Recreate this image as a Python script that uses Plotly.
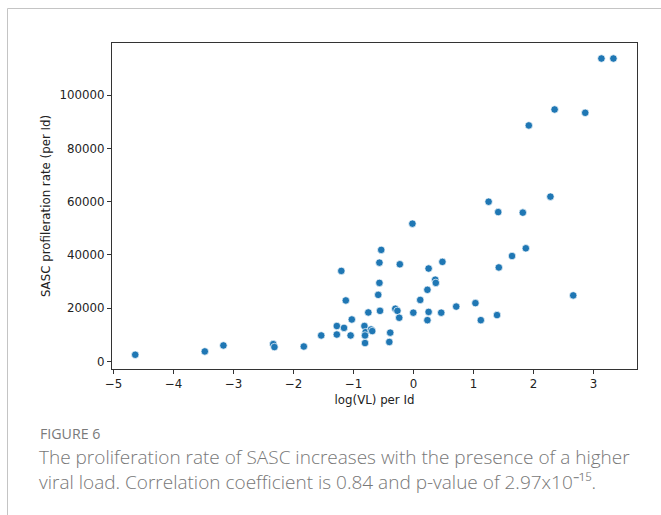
import plotly.graph_objects as go

log_vl = [-4.64, -3.48, -3.17, -2.34, -2.32, -1.83, -1.54, -1.28, -1.28, -1.16,
          -1.05, -1.03, -1.205, -1.13, -0.82, -0.80, -0.81, -0.81, -0.755, -0.71,
          -0.69, -0.59, -0.57, -0.57, -0.54, -0.56, -0.39, -0.405, -0.305, -0.27,
          -0.24, -0.23, -0.02, -0.005, 0.11, 0.25, 0.23, 0.36, 0.37, 0.48,
          0.25, 0.23, 0.46, 0.71, 1.03, 3.13, 3.33, 2.35, 2.86, 1.92,
          2.28, 1.25, 1.41, 1.82, 1.87, 1.64, 1.42, 2.66, 1.12, 1.39]
prolif = [2500, 3750, 6000, 6500, 5400, 5600, 9750, 13300, 10100, 12600,
          9750, 15750, 34000, 22900, 13300, 11000, 9750, 6900, 18400, 12000,
          11400, 25000, 29500, 37100, 41900, 19000, 10800, 7300, 19800, 19000,
          16400, 36500, 51750, 18300, 23100, 34900, 26900, 30700, 29500, 37400,
          18600, 15500, 18300, 20600, 21900, 113800, 113800, 94650, 93400, 88650,
          61900, 60000, 56100, 55900, 42500, 39600, 35300, 24800, 15500, 17400]

x_ticks = [-5, -4, -3, -2, -1, 0, 1, 2, 3]
y_ticks = [0, 20000, 40000, 60000, 80000, 100000]

W, H = 661, 515
L, R, T, B = 112, 24, 43, 146
pw, ph = W - L - R, H - T - B

def px(x):
    return (x - L) / pw

def py(y):
    return (H - B - y) / ph

fig = go.Figure()
fig.add_trace(go.Scatter(
    x=log_vl, y=prolif, mode="markers",
    marker=dict(color="#1f77b4", size=7.5, line=dict(color="white", width=0.7)),
    showlegend=False,
))

axis_common = dict(
    showline=True, linecolor="#333333", linewidth=1, mirror=True,
    ticks="outside", ticklen=4, tickwidth=1, tickcolor="#333333",
    showgrid=False, zeroline=False,
    tickfont=dict(family="DejaVu Sans", size=11.8, color="#222222"),
)

fig.update_layout(
    width=W, height=H,
    margin=dict(l=L, r=R, t=T, b=B),
    paper_bgcolor="white", plot_bgcolor="white",
    xaxis=dict(range=[-5.027, 3.723], tickvals=x_ticks,
               ticktext=["\u2212" + str(-v) if v < 0 else str(v) for v in x_ticks],
               title=dict(text="log(VL) per Id", standoff=5,
                          font=dict(family="DejaVu Sans", size=11.8, color="#222222")),
               **axis_common),
    yaxis=dict(range=[-2850, 119625], tickvals=y_ticks,
               ticktext=[str(v) for v in y_ticks],
               title=dict(text="SASC profileration rate (per Id)", standoff=6,
                          font=dict(family="DejaVu Sans", size=11.8, color="#222222")),
               **axis_common),
)

# card border (left and top)
fig.add_shape(type="line", xref="paper", yref="paper",
              x0=px(7.5), x1=px(W + 5), y0=py(8.5), y1=py(8.5),
              line=dict(color="#c4c4c4", width=1))
fig.add_shape(type="line", xref="paper", yref="paper",
              x0=px(7.5), x1=px(7.5), y0=py(8.5), y1=py(H + 5),
              line=dict(color="#c4c4c4", width=1))

fig.add_annotation(text="FIGURE 6", xref="paper", yref="paper",
                   x=px(38), y=py(433), xanchor="left", yanchor="middle",
                   showarrow=False,
                   font=dict(family="Open Sans", size=14.2, color="#7a7a7a"))
fig.add_annotation(text=("The proliferation rate of SASC increases with the presence of a higher<br>"
                         "viral load. Correlation coefficient is 0.84 and p-value of 2.97x10\u207b\u00b9\u2075."),
                   xref="paper", yref="paper",
                   x=px(37), y=py(469.5), xanchor="left", yanchor="middle", align="left",
                   showarrow=False,
                   font=dict(family="Open Sans", size=19, color="#777777", weight=300))

fig.write_html("out.html")
